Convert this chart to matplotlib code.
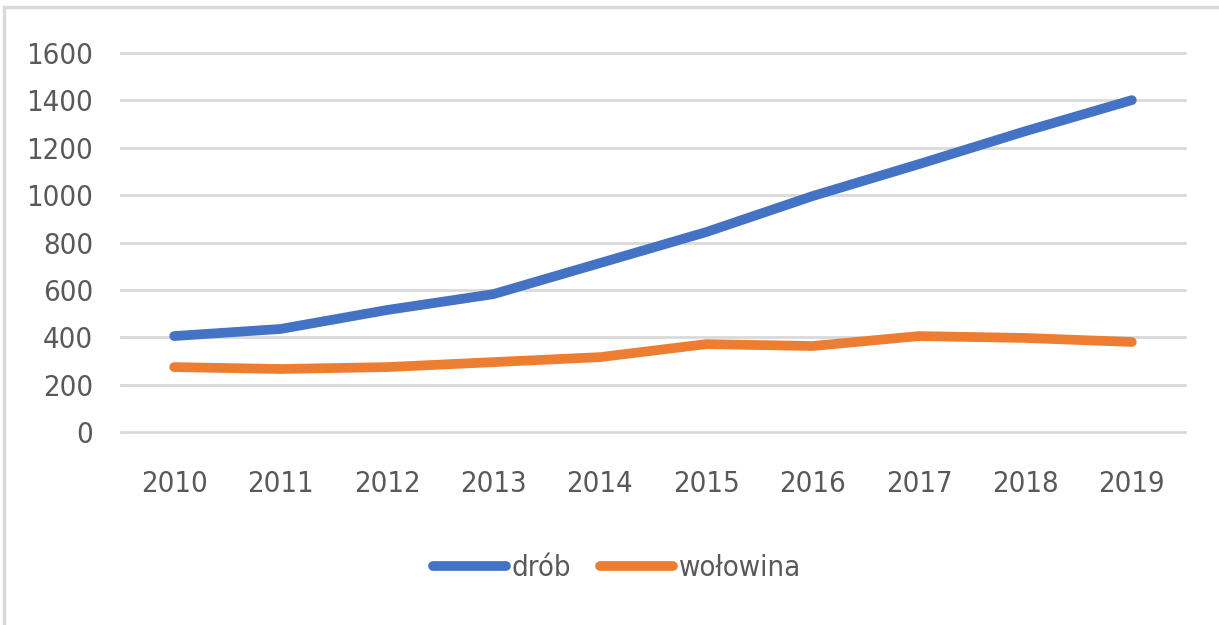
import numpy as np
import matplotlib.pyplot as plt
from matplotlib.patches import Rectangle
from matplotlib import font_manager

# data
years = ['2010', '2011', '2012', '2013', '2014', '2015', '2016', '2017', '2018', '2019']
drob = [405, 435, 515, 582, 713, 844, 996, 1131, 1270, 1401]
wolowina = [274, 266, 274, 295, 316, 371, 363, 405, 397, 380]
yticks = [0, 200, 400, 600, 800, 1000, 1200, 1400, 1600]

# look for a narrow / condensed regular face, the reference uses a narrow font
cands = [f for f in font_manager.fontManager.ttflist
         if f.style == 'normal' and f.weight in (400, 'normal', 'regular')
         and ('condensed' in str(f.stretch) or 'Narrow' in f.name or 'Condensed' in f.name)]
cands.sort(key=lambda f: (0 if 'Liberation' in f.name else 1 if 'DejaVu' in f.name else 2, f.name))
if cands:
    fp = font_manager.FontProperties(fname=cands[0].fname)
else:
    fp = font_manager.FontProperties(family='DejaVu Sans')
fp.set_size(21)

W, H = 1219, 625
fig = plt.figure(figsize=(W / 100, H / 100), dpi=100)

# outer chart frame
fig.patches.append(Rectangle((4 / W, -0.1), 1.2, 1 - 7 / H + 0.1, transform=fig.transFigure,
                             fill=False, edgecolor='#d9d9d9', linewidth=2.5))

ax = fig.add_axes([121 / W, 1 - 432 / H, (1185 - 121) / W, (432 - 53) / H])
x = np.arange(len(years))
ax.plot(x, drob, color='#4472c4', linewidth=7, solid_capstyle='round', solid_joinstyle='round', label='drób')
ax.plot(x, wolowina, color='#ed7d31', linewidth=7, solid_capstyle='round', solid_joinstyle='round', label='wołowina')

ax.set_xlim(-0.5, len(years) - 0.5)
ax.set_ylim(0, 1600)
ax.set_yticks(yticks)
ax.set_xticks(x)
ax.set_xticklabels(years)
ax.grid(axis='y', color='#d9d9d9', linewidth=2)
for gl in ax.get_ygridlines():
    gl.set_clip_on(False)
ax.set_axisbelow(True)
for s in ax.spines.values():
    s.set_visible(False)
ax.tick_params(length=0, labelcolor='#595959')
ax.tick_params(axis='x', pad=27)
ax.tick_params(axis='y', pad=20)
for lab in ax.get_xticklabels() + ax.get_yticklabels():
    lab.set_fontproperties(fp)

leg = fig.legend(loc='center', bbox_to_anchor=(617 / W, 1 - 568 / H), ncol=2, frameon=False,
                 prop=fp, labelcolor='#595959', handlelength=2.5, handletextpad=0.2, columnspacing=1.0)

fig.savefig('out.png', dpi=100)
